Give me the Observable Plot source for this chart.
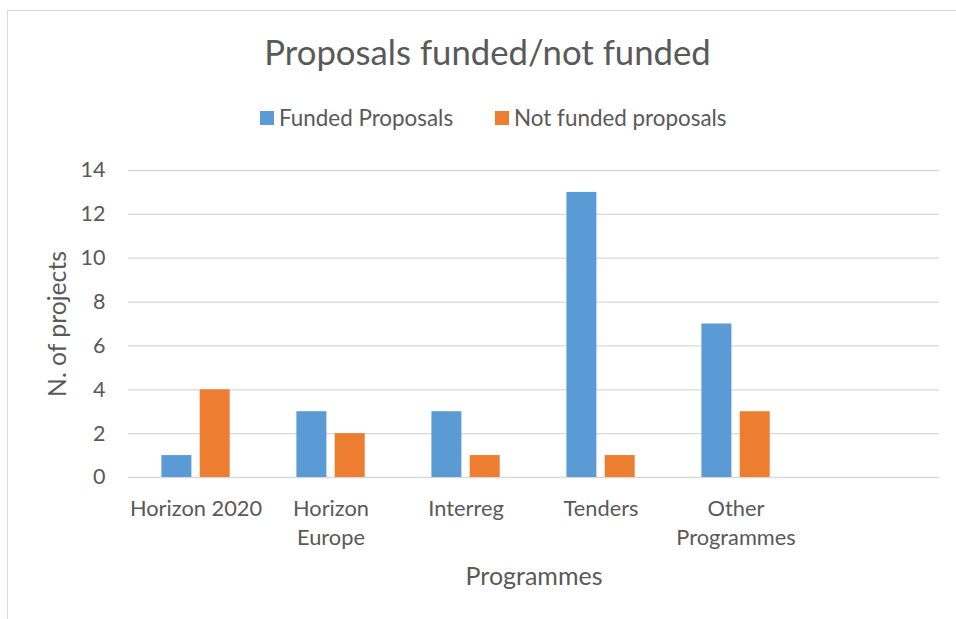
<!DOCTYPE html>
<html>
<head>
<meta charset="utf-8">
<script src="https://cdn.jsdelivr.net/npm/d3@7"></script>
<script src="https://cdn.jsdelivr.net/npm/@observablehq/plot@0.6"></script>
<style>
  html, body { margin: 0; padding: 0; background: #fff; overflow: hidden; }
  body { width: 956px; height: 619px; position: relative; font-family: Lato, "Open Sans", sans-serif; color: #595959; }
  #frame { position: absolute; left: 7px; top: 10px; width: 1000px; height: 700px; border: 1.3px solid #d9d9d9; box-sizing: border-box; }
  #title { position: absolute; left: 0; width: 975px; top: 35px; text-align: center; font-size: 34.7px; line-height: 1; white-space: nowrap; }
  #legend { position: absolute; left: 260px; top: 107px; display: flex; align-items: center; font-size: 22.4px; line-height: 1; white-space: nowrap; }
  .sw { width: 14px; height: 14px; display: inline-block; margin-right: 5px; }
  .item { display: flex; align-items: center; }
  #chart { position: absolute; left: 0; top: 150px; }
</style>
</head>
<body>
<div id="frame"></div>
<div id="title"></div>
<div id="legend"></div>
<div id="chart"></div>
<script>
// ---- data ----
const categories = ["Horizon 2020", "Horizon Europe", "Interreg", "Tenders", "Other Programmes"];
const tickLabels = ["Horizon 2020", "Horizon\nEurope", "Interreg", "Tenders", "Other\nProgrammes"];
const funded = [1, 3, 3, 13, 7];
const notFunded = [4, 2, 1, 1, 3];
const yTicks = [0, 2, 4, 6, 8, 10, 12, 14];
const seriesNames = ["Funded Proposals", "Not funded proposals"];
const seriesColors = ["#5B9BD5", "#ED7D31"];
const titleText = "Proposals funded/not funded";
const xTitle = "Programmes";
const yTitle = "N. of projects";

// ---- title & legend ----
document.getElementById("title").textContent = titleText;
const legend = document.getElementById("legend");
seriesNames.forEach((name, i) => {
  const item = document.createElement("div");
  item.className = "item";
  if (i > 0) item.style.marginLeft = "42px";
  const sw = document.createElement("span");
  sw.className = "sw";
  sw.style.background = seriesColors[i];
  const label = document.createElement("span");
  label.textContent = name;
  item.appendChild(sw);
  item.appendChild(label);
  legend.appendChild(item);
});

// ---- chart ----
const rows = categories.map((c, i) => ({category: c, funded: funded[i], notFunded: notFunded[i]}));
const labelOf = d => tickLabels[categories.indexOf(d)];

const chart = Plot.plot({
  width: 956,
  height: 440,
  marginLeft: 128,
  marginRight: 17,
  marginTop: 20,
  marginBottom: 113,
  style: {fontFamily: "Lato, 'Open Sans', sans-serif", color: "#595959", background: "transparent", overflow: "visible"},
  x: {type: "band", domain: categories, range: [128.3, 803.3], padding: 0},
  y: {domain: [0, 14]},
  marks: [
    Plot.ruleY(yTicks, {stroke: "#d9d9d9", strokeWidth: 1.3}),
    Plot.barY(rows, {x: "category", y: "funded", fill: seriesColors[0], insetLeft: 33.4, insetRight: 71.6}),
    Plot.barY(rows, {x: "category", y: "notFunded", fill: seriesColors[1], insetLeft: 71.7, insetRight: 33.3}),
    Plot.axisY({ticks: yTicks, tickSize: 0, tickPadding: 23, fontSize: 21.5, label: null, fill: "#595959"}),
    Plot.axisX({tickSize: 0, tickPadding: 18, fontSize: 21.8, lineHeight: 1.33, tickFormat: labelOf, label: null, fill: "#595959"}),
    Plot.text([xTitle], {frameAnchor: "bottom", dy: 107, lineAnchor: "bottom", fontSize: 25, fill: "#595959"}),
    Plot.text([yTitle], {frameAnchor: "left", textAnchor: "middle", dx: -80, rotate: -90, lineAnchor: "top", fontSize: 24.7, fill: "#595959"})
  ]
});
document.getElementById("chart").appendChild(chart);
</script>
</body>
</html>
